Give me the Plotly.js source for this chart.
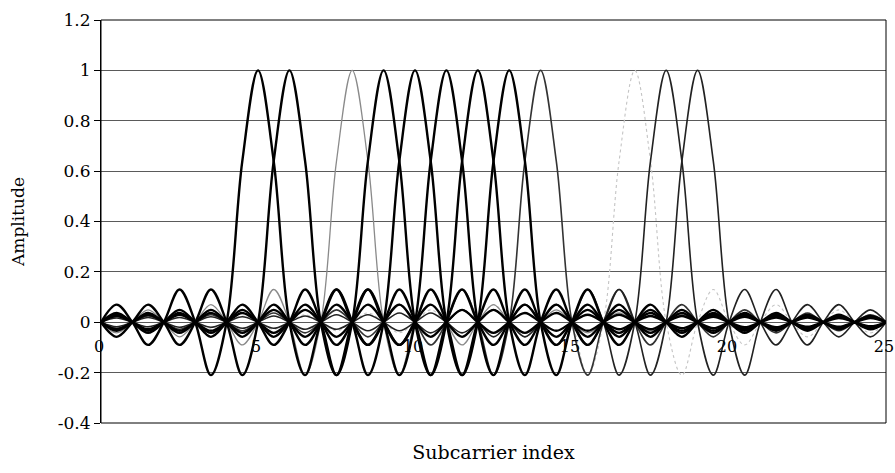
<!DOCTYPE html>
<html>
<head>
<meta charset="utf-8">
<script src="https://cdn.plot.ly/plotly-3.0.1.min.js"></script>
<style>html,body{margin:0;padding:0;background:#fff;}#chart{width:895px;height:473px;}</style>
</head>
<body>
<div id="chart"></div>
<script>
// Subcarrier centre positions (peaks at amplitude 1)
var centers = [5, 6, 8, 9, 10, 11, 12, 13, 14, 17, 18, 19];
// Pulse amplitude at half-unit offsets from a centre:
// pulse[i] is the amplitude at |offset| = i/2
var pulse = [1, 0.64, 0, -0.21, 0, 0.13, 0, -0.09, 0, 0.07, 0, -0.058, 0, 0.049, 0,
  -0.042, 0, 0.037, 0, -0.034, 0, 0.030, 0, -0.028, 0, 0.025, 0, -0.024, 0, 0.022, 0,
  -0.020, 0, 0.019, 0, -0.018, 0, 0.017, 0, -0.016, 0];
// Sample positions along the subcarrier axis
var xSamples = [0,0.5,1,1.5,2,2.5,3,3.5,4,4.5,5,5.5,6,6.5,7,7.5,8,8.5,9,9.5,10,10.5,11,11.5,12,12.5,
  13,13.5,14,14.5,15,15.5,16,16.5,17,17.5,18,18.5,19,19.5,20,20.5,21,21.5,22,22.5,23,23.5,24,24.5,25];
var xTicks = [0, 5, 10, 15, 20, 25];
var xTickText = ["0", "5", "10", "15", "20", "25"];
var yTicks = [-0.4, -0.2, 0, 0.2, 0.4, 0.6, 0.8, 1, 1.2];
var yTickText = ["-0.4", "-0.2", "0", "0.2", "0.4", "0.6", "0.8", "1", "1.2"];

// styles (per centre)
var lineColors = ["#000", "#000", "#8a8a8a", "#000", "#000", "#000", "#000", "#000", "#333", "#c4c4c4", "#222", "#222"];
var lineWidths = [2.4, 2.4, 1.3, 2.4, 2.4, 2.4, 2.4, 2.4, 1.6, 1.1, 1.6, 1.6];
var lineDash = ["solid","solid","solid","solid","solid","solid","solid","solid","solid","dot","solid","solid"];
var drawOrder = [9, 2, 8, 10, 11, 0, 1, 3, 4, 5, 6, 7];

var traces = [];
drawOrder.forEach(function (k) {
  var c = centers[k];
  var ys = xSamples.map(function (x) {
    var idx = Math.round(Math.abs(x - c) * 2);
    return idx < pulse.length ? pulse[idx] : 0;
  });
  traces.push({
    x: xSamples, y: ys, type: 'scatter', mode: 'lines',
    line: {color: lineColors[k], width: lineWidths[k], shape: 'spline', smoothing: 1, dash: lineDash[k]},
    showlegend: false, hoverinfo: 'skip', cliponaxis: true
  });
});
traces.push({x: [], y: [], xaxis: 'x2', yaxis: 'y', type: 'scatter', mode: 'lines', showlegend: false});

var tickFont = {family: 'DejaVu Serif', size: 17, color: '#000'};
var layout = {
  width: 895, height: 473,
  margin: {l: 101, r: 9, t: 20, b: 50},
  paper_bgcolor: '#fff', plot_bgcolor: '#fff',
  showlegend: false,
  xaxis: {
    range: [0, 25], showgrid: false, zeroline: false, showticklabels: false, ticks: '',
    showline: false, fixedrange: true,
    title: {text: 'Subcarrier index', font: {family: 'DejaVu Serif', size: 19, color: '#000'}, standoff: 22}
  },
  xaxis2: {
    overlaying: 'x', matches: 'x', range: [0, 25], anchor: 'free', position: 0.25, side: 'bottom',
    tickmode: 'array', tickvals: xTicks, ticktext: xTickText, ticks: '', showgrid: false,
    zeroline: false, showline: false, tickfont: {family: 'DejaVu Serif', size: 16, color: '#000'},
    ticklabelstandoff: 13, ticklabeloverflow: 'allow', ticklabelshift: -2
  },
  yaxis: {
    range: [-0.4, 1.2], tickmode: 'array', tickvals: yTicks, ticktext: yTickText,
    showgrid: true, gridcolor: '#5a5a5a', gridwidth: 1, zeroline: false,
    showline: true, linecolor: '#000', linewidth: 1, ticks: 'outside', ticklen: 6, tickcolor: '#000',
    tickfont: tickFont, fixedrange: true,
    title: {text: 'Amplitude', font: {family: 'DejaVu Serif', size: 17, color: '#000'}, standoff: 28}
  },
  shapes: [{type: 'rect', xref: 'paper', yref: 'paper', x0: 0, x1: 1, y0: 0, y1: 1,
    line: {color: '#000', width: 1}, layer: 'above'}]
};
Plotly.newPlot('chart', traces, layout, {staticPlot: true, displayModeBar: false});
</script>
</body>
</html>
